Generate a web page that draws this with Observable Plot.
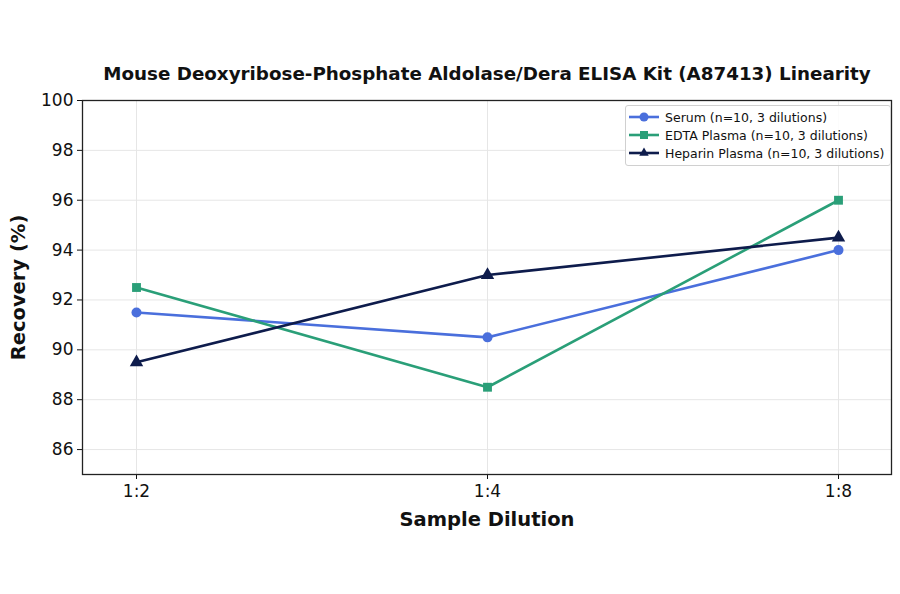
<!DOCTYPE html>
<html>
<head>
<meta charset="utf-8">
<script src="https://cdn.jsdelivr.net/npm/d3@7"></script>
<script src="https://cdn.jsdelivr.net/npm/@observablehq/plot@0.6"></script>
<style>
  body { margin: 0; background: #fff; }
  #wrap { position: relative; width: 900px; height: 594px; font-family: "DejaVu Sans", sans-serif; }
  #legend { position: absolute; left: 625px; top: 105px; padding: 2px 6px 3px 0; white-space: nowrap;
    border: 1px solid #d0d0d0; border-radius: 3px; background: rgba(255,255,255,0.85); font-size: 12.5px; color: #111; }
  .row { display: flex; align-items: center; height: 18px; }
  .row svg { margin: 0 6px 0 3px; flex: none; }
</style>
</head>
<body>
<div id="wrap"><div id="legend"></div></div>
<script>
const dilutions = ["1:2", "1:4", "1:8"];
const seriesNames = ["Serum (n=10, 3 dilutions)", "EDTA Plasma (n=10, 3 dilutions)", "Heparin Plasma (n=10, 3 dilutions)"];
const serum = [91.5, 90.5, 94.0];
const edta = [92.5, 88.5, 96.0];
const heparin = [89.5, 93.0, 94.5];
const colors = ["#4a6fdc", "#2a9f78", "#0e1c4c"];
const symbols = ["circle", "square", "triangle"];
const yTicks = [86, 88, 90, 92, 94, 96, 98, 100];
const title = "Mouse Deoxyribose-Phosphate Aldolase/Dera ELISA Kit (A87413) Linearity";

const allSeries = [serum, edta, heparin];
const data = [];
allSeries.forEach((vals, si) => vals.forEach((v, i) => data.push({series: seriesNames[si], dilution: dilutions[i], value: v})));

const chart = Plot.plot({
  width: 900, height: 594,
  marginTop: 100, marginLeft: 82, marginRight: 9, marginBottom: 120,
  style: {fontFamily: "DejaVu Sans, sans-serif", fontSize: "16px", color: "#111", background: "white"},
  x: {type: "point", domain: dilutions, padding: 0.15},
  y: {domain: [85, 100]},
  color: {domain: seriesNames, range: colors},
  symbol: {domain: seriesNames, range: symbols},
  marks: [
    Plot.gridY(yTicks, {stroke: "#e6e6e6", strokeOpacity: 1}),
    Plot.gridX(dilutions, {stroke: "#e6e6e6", strokeOpacity: 1}),
    Plot.axisY(yTicks, {tickSize: 5, tickPadding: 4, label: null, fontSize: 17, fill: "#111"}),
    Plot.axisX(dilutions, {tickSize: 5, tickPadding: 5, label: null, fontSize: 17, fill: "#111"}),
    Plot.line(data, {x: "dilution", y: "value", z: "series", stroke: "series", strokeWidth: 2.6}),
    Plot.dot(data, {x: "dilution", y: "value", fill: "series", symbol: "series", r: 5, stroke: "none"}),
    Plot.frame({stroke: "#222", strokeWidth: 1.3}),
    Plot.text([title], {frameAnchor: "top", dy: -34, fontSize: 18.3, fontWeight: "bold", fill: "#111"}),
    Plot.text(["Recovery (%)"], {frameAnchor: "left", dx: -64, rotate: -90, textAnchor: "middle", fontSize: 19.5, fontWeight: "bold", fill: "#111"}),
    Plot.text(["Sample Dilution"], {frameAnchor: "bottom", dy: 51, textAnchor: "middle", fontSize: 19.5, fontWeight: "bold", fill: "#111"})
  ]
});
document.getElementById("wrap").prepend(chart);

const legend = document.getElementById("legend");
seriesNames.forEach((name, i) => {
  const row = document.createElement("div");
  row.className = "row";
  const symType = symbols[i] === "circle" ? d3.symbolCircle : symbols[i] === "square" ? d3.symbolSquare : d3.symbolTriangle2;
  const sym = d3.symbol(symType, 64)();
  row.innerHTML = `<svg width="30" height="14"><line x1="0" x2="30" y1="7" y2="7" stroke="${colors[i]}" stroke-width="2.6"/><path d="${sym}" transform="translate(15,7)" fill="${colors[i]}"/></svg><span>${name}</span>`;
  legend.appendChild(row);
});
</script>
</body>
</html>
